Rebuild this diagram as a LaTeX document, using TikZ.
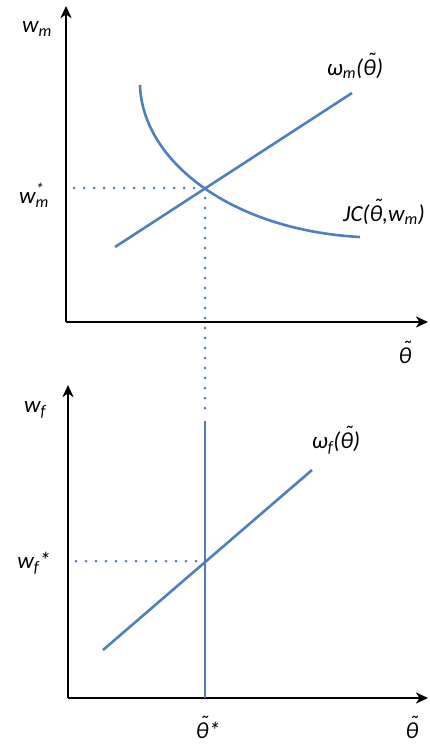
\documentclass[tikz,border=0pt]{standalone}
\usepackage{fontspec}
\setmainfont{Carlito}
\usetikzlibrary{arrows.meta}
\definecolor{curveblue}{HTML}{4F7FBC}
\newcommand{\tth}{\leavevmode\rlap{\raisebox{0.3em}{\kern0.14em ˜}}θ}

\begin{document}
\begin{tikzpicture}[x=1pt, y=-1pt,
  axis/.style={line width=2.2pt, -{Stealth[length=12pt, width=11pt, inset=3.5pt]}},
  curve/.style={line width=2.6pt, curveblue},
  guide/.style={line width=3pt, curveblue, line cap=round, dash pattern=on 0pt off 10pt},
  lbl/.style={font=\fontsize{23}{26}\selectfont\itshape, inner sep=0pt}
]
\useasboundingbox (0,0) rectangle (430,746);

% upper panel
\coordinate (o1) at (66,322);
\coordinate (yend1) at (66,6);
\coordinate (xend1) at (428,322);
\coordinate (jcA) at (140,85);
\coordinate (jcB) at (360,237);
\coordinate (omA) at (115,247);
\coordinate (omB) at (352,93);
\coordinate (eq1) at (205,188);
\coordinate (h1) at (74,188);
\coordinate (vlow) at (205,416);

\draw[axis] (o1) -- (yend1);
\draw[axis] (o1) -- (xend1);
\draw[curve] (jcA) .. controls (142,160) and (230,230) .. (jcB);
\draw[curve] (omA) -- (omB);
\draw[guide] (h1) -- (eq1);
\draw[guide] (eq1) -- (vlow);

\node[lbl] (wm) at (37,29) {w\textsubscript{m}};
\node[lbl] (wmstar) at (34,195) {w\rlap{\textsuperscript{*}}\textsubscript{m}};
\node[lbl] (omlab) at (355,66) {ω\textsubscript{m}(\tth)};
\node[lbl] (jclab) at (384,212) {JC(\tth,w\textsubscript{m})};
\node[lbl] (th1) at (405,352) {\tth};

% lower panel
\coordinate (o2) at (68,698);
\coordinate (yend2) at (68,385);
\coordinate (xend2) at (428,698);
\coordinate (ofA) at (103,650);
\coordinate (ofB) at (312,470);
\coordinate (eq2) at (205,561);
\coordinate (h2) at (76,561);
\coordinate (vtop) at (205,421);
\coordinate (vbot) at (205,698);

\draw[axis] (o2) -- (yend2);
\draw[axis] (o2) -- (xend2);
\draw[curve] (ofA) -- (ofB);
\draw[curve] (vtop) -- (vbot);
\draw[guide] (h2) -- (eq2);

\node[lbl] (wf) at (35,410) {w\textsubscript{f}};
\node[lbl] (wfstar) at (34,563) {w\textsubscript{f}*};
\node[lbl] (oflab) at (336,440) {ω\textsubscript{f}(\tth)};
\node[lbl] (thstar) at (208,727) {\tth*};
\node[lbl] (th2) at (412,727) {\tth};
\end{tikzpicture}
\end{document}
